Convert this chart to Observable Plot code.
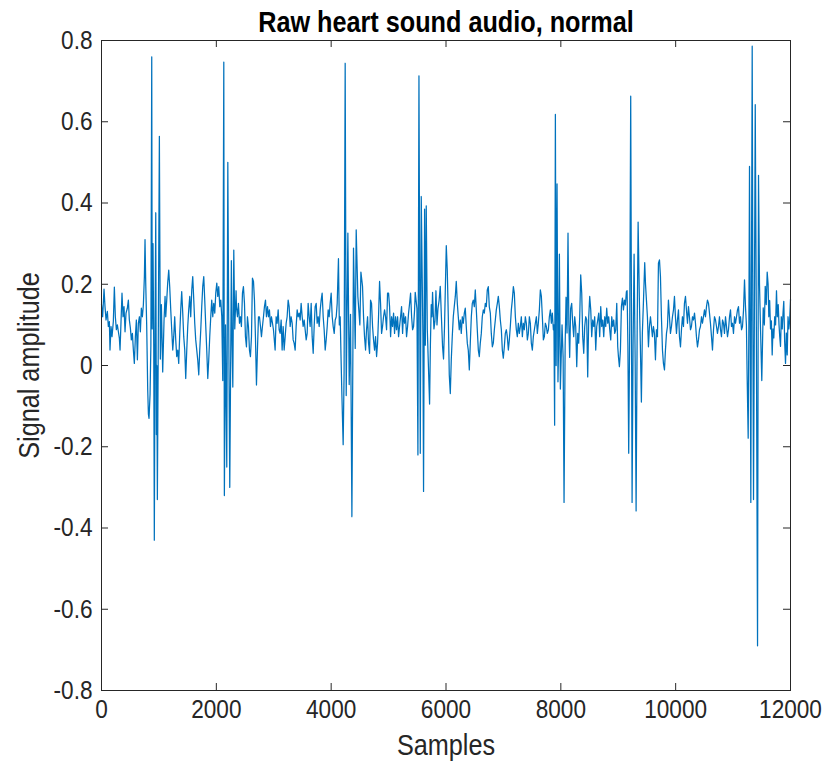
<!DOCTYPE html>
<html>
<head>
<meta charset="utf-8">
<script src="https://cdn.jsdelivr.net/npm/d3@7"></script>
<script src="https://cdn.jsdelivr.net/npm/@observablehq/plot@0.6"></script>
<style>
  html, body { margin: 0; padding: 0; background: #fff; }
  #chart svg { display: block; }
</style>
</head>
<body>
<div id="chart"></div>
<script>
// ---- Data: [sample index, amplitude] ----
const seg0 = [[0,0.15],[20,0.12],[44,0.188],[61,0.145],[79,0.112],[102,0.133],[119,0.096],[137,0.108],[148,0.038],[166,0.096],[183,0.071],[206,0.108],[224,0.193],[241,0.12],[259,0.088],[276,0.1],[294,0.083],[311,0.067],[323,0.038],[340,0.108],[357,0.178],[375,0.12],[392,0.145],[410,0.083],[427,0.129],[450,0.141],[468,0.161],[485,0.112],[503,0.092],[520,0.063],[538,0.079],[555,0.038],[572,0.005],[590,0.071],[607,0.112],[625,0.014],[642,0.104],[660,0.12],[677,0.083],[694,0.141],[712,0.12],[729,0.149],[747,0.219]];
const burst1 = [[758,0.31],[770,0.205],[787,0.10],[805,-0.06],[817,-0.12],[828,-0.13],[846,-0.07],[860,0.05],[875,0.76],[883,0.09],[897,0.30],[910,0.05],[920,-0.43],[933,0.10],[945,0.376],[956,-0.17],[964,0.0],[973,-0.33],[990,0.09],[1008,0.564],[1025,0.016],[1043,0.15],[1066,-0.016],[1089,0.11],[1107,0.17]];
const seg1 = [[1119,0.12],[1136,0.161],[1153,0.203],[1171,0.235],[1188,0.194],[1206,0.137],[1223,0.088],[1241,0.038],[1258,0.071],[1275,0.12],[1293,0.063],[1310,0.022],[1328,0.038],[1345,0.005],[1363,0.079],[1380,0.137],[1397,0.182],[1415,0.129],[1432,0.071],[1450,0.038],[1467,-0.032],[1485,0.038],[1502,0.096],[1519,0.137],[1537,0.17],[1554,0.12],[1572,0.186],[1589,0.219],[1607,0.161],[1624,0.104],[1641,0.063],[1659,0.038],[1676,0.014],[1694,-0.023],[1711,0.038],[1729,0.088],[1746,0.145],[1763,0.194],[1781,0.219],[1798,0.161],[1816,0.096],[1833,0.038],[1851,-0.032],[1868,0.014],[1885,0.071],[1903,0.12],[1920,0.161],[1938,0.12],[1955,0.153],[1973,0.129],[1990,0.178],[2008,0.203],[2025,0.17],[2042,0.194],[2060,0.145],[2077,0.161],[2095,0.12]];
const burst2 = [[2112,-0.037],[2130,0.747],[2140,-0.32],[2160,0.10],[2182,-0.25],[2200,0.50],[2218,0.05],[2234,-0.30],[2262,0.258],[2275,0.05],[2287,-0.053],[2304,0.284],[2321,0.09],[2344,0.184]];
const seg2 = [[2350,0.145],[2368,0.12],[2385,0.153],[2403,0.104],[2420,0.12],[2437,0.096],[2455,0.178],[2472,0.194],[2490,0.153],[2507,0.071],[2525,0.046],[2542,0.12],[2559,0.096],[2577,0.038],[2594,0.022],[2612,0.071],[2629,0.215],[2647,0.207],[2664,0.161],[2681,0.071],[2699,-0.048],[2716,0.038],[2734,0.12],[2751,0.12],[2769,0.096],[2786,0.071],[2803,0.096],[2821,0.12],[2838,0.145],[2856,0.161],[2873,0.12],[2891,0.145],[2908,0.12],[2925,0.137],[2943,0.096],[2960,0.12],[2978,0.104],[2995,0.088],[3024,0.038],[3042,0.12],[3059,0.104],[3077,0.137],[3094,0.088],[3111,0.079],[3129,0.112],[3146,0.038],[3164,0.096],[3181,0.038],[3199,0.071],[3216,0.104],[3233,0.12],[3251,0.161],[3268,0.145],[3286,0.096],[3303,0.12],[3321,0.104],[3338,0.063],[3355,0.055],[3373,0.038],[3390,0.096],[3408,0.137],[3425,0.12],[3443,0.129],[3460,0.112],[3477,0.153],[3495,0.12],[3512,0.096],[3530,0.112],[3547,0.088],[3565,0.063],[3582,0.079],[3599,0.153],[3617,0.12],[3634,0.096],[3652,0.153],[3669,0.071],[3687,0.03],[3704,0.096],[3721,0.145],[3739,0.153],[3756,0.104],[3774,0.12],[3791,0.096],[3809,0.137],[3826,0.161],[3843,0.178],[3861,0.12],[3878,0.088],[3896,0.038],[3913,0.063],[3931,0.096],[3948,0.137],[3965,0.12],[3983,0.153],[4000,0.178],[4018,0.12],[4035,0.096],[4053,0.079],[4070,0.112],[4088,0.12],[4105,0.153]];
const burst3 = [[4127,0.263],[4142,0.10],[4157,0.12],[4172,0.02],[4187,-0.074],[4209,-0.195],[4225,-0.02],[4244,0.744],[4262,-0.074],[4291,0.326],[4314,-0.047],[4337,0.126],[4361,-0.372],[4389,0.289],[4419,0.042],[4436,0.334],[4465,0.17],[4500,0.10],[4518,0.23],[4546,0.195]];
const seg3 = [[4564,0.12],[4581,0.071],[4599,0.038],[4616,0.088],[4634,0.12],[4651,0.055],[4669,0.03],[4686,0.161],[4703,0.153],[4721,0.096],[4738,0.063],[4756,0.038],[4773,0.071],[4791,0.022],[4808,0.055],[4825,0.12],[4843,0.207],[4860,0.153],[4878,0.079],[4895,0.096],[4912,0.12],[4930,0.137],[4947,0.12],[4965,0.088],[4982,0.178],[5000,0.178],[5017,0.145],[5035,0.071],[5052,0.12],[5069,0.096],[5087,0.129],[5104,0.079],[5122,0.12],[5139,0.088],[5157,0.12],[5174,0.071],[5191,0.096],[5209,0.12],[5226,0.145],[5244,0.079],[5261,0.129],[5279,0.104],[5296,0.12],[5313,0.071],[5331,0.096],[5348,0.129],[5366,0.153],[5383,0.178],[5401,0.12],[5418,0.088],[5435,0.096],[5453,0.137]];
const burst4 = [[5464,0.18],[5494,0.14],[5511,-0.22],[5529,0.713],[5552,-0.216],[5569,0.416],[5598,0.068],[5609,-0.31],[5627,0.385],[5640,0.05],[5656,0.393],[5674,0.09],[5714,-0.095],[5728,0.05],[5743,0.15],[5755,0.12],[5766,0.18],[5778,0.13],[5790,0.09],[5808,0.11],[5825,0.184],[5843,0.10],[5860,0.14],[5880,0.16],[5900,0.195],[5920,0.12],[5940,0.047],[5957,0.016],[5975,0.10],[5990,0.20],[6005,0.295],[6022,0.235],[6040,0.12],[6057,-0.023],[6075,-0.069]];
const seg4 = [[6092,0.014],[6109,0.071],[6127,0.12],[6144,0.145],[6162,0.17],[6179,0.207],[6197,0.153],[6214,0.12],[6231,0.088],[6249,0.112],[6266,0.079],[6284,0.12],[6301,0.104],[6319,0.129],[6336,0.141],[6353,0.096],[6371,0.055],[6388,0.038],[6406,-0.011],[6423,0.055],[6441,0.12],[6458,0.153],[6475,0.161],[6493,0.145],[6510,0.186],[6528,0.137],[6545,0.088],[6563,0.038],[6580,0.022],[6597,0.055],[6615,0.079],[6632,0.12],[6650,0.137],[6667,0.129],[6685,0.153],[6702,0.145],[6719,0.186],[6737,0.194],[6754,0.145],[6772,0.129],[6789,0.079],[6807,0.046],[6824,0.055],[6842,0.088],[6859,0.112],[6876,0.137],[6894,0.153],[6911,0.17],[6929,0.145],[6946,0.112],[6964,0.088],[6981,0.038],[6998,0.018],[7016,0.046],[7033,0.079],[7051,0.088],[7068,0.071],[7086,0.038],[7103,0.063],[7120,0.096],[7138,0.137],[7155,0.161],[7173,0.194],[7190,0.178],[7208,0.12],[7225,0.088],[7242,0.071],[7260,0.104],[7277,0.079],[7295,0.096],[7312,0.12],[7330,0.071],[7347,0.104],[7364,0.088],[7382,0.12],[7399,0.104],[7417,0.063],[7434,0.079],[7452,0.12],[7469,0.104],[7486,0.055],[7504,0.038],[7521,0.071],[7539,0.088],[7556,0.104],[7574,0.12],[7591,0.079],[7608,0.104],[7626,0.137],[7643,0.186],[7661,0.17],[7678,0.12],[7696,0.063],[7713,0.071],[7730,0.104],[7748,0.096],[7765,0.079],[7783,0.088],[7800,0.12],[7818,0.137],[7835,0.104],[7852,0.129],[7870,0.088]];
const burst5 = [[7880,0.10],[7892,-0.147],[7905,0.618],[7918,0.0],[7934,0.447],[7950,-0.04],[7962,0.05],[7975,0.274],[7992,-0.058],[8021,0.10],[8040,0.02],[8056,-0.337],[8075,0.05],[8091,0.168],[8108,0.08],[8125,0.326],[8140,0.10],[8154,0.02],[8171,0.14]];
const seg5 = [[8189,0.153],[8207,0.104],[8224,0.071],[8242,0.12],[8259,0.096],[8277,-0.003],[8294,0.079],[8311,0.055],[8329,0.12],[8346,0.223],[8364,0.178],[8381,0.071],[8399,0.03],[8416,0.096],[8433,0.12],[8451,0.112],[8468,-0.028],[8486,0.12],[8503,0.17],[8521,0.137],[8538,0.071],[8555,0.112],[8573,0.096],[8590,0.12],[8608,0.038],[8625,0.096],[8643,0.112],[8660,0.129],[8677,0.071],[8695,0.145],[8712,0.096],[8730,0.112],[8747,0.071],[8765,0.12],[8782,0.096],[8799,0.141],[8817,0.104],[8834,0.12],[8852,0.088],[8869,0.063],[8887,0.12],[8904,0.096],[8921,0.112],[8939,0.079],[8956,0.088],[8974,0.153],[8991,0.046],[9003,0.022],[9020,-0.003],[9038,0.038],[9055,0.145],[9073,0.166],[9090,0.137],[9107,0.161],[9125,0.149],[9142,0.182]];
const burst6 = [[9154,0.184],[9168,0.05],[9182,-0.216],[9200,0.10],[9217,0.663],[9241,-0.337],[9258,0.05],[9276,0.274],[9295,0.0],[9311,-0.358],[9330,0.10],[9346,0.353],[9369,0.153],[9385,0.05],[9403,-0.09],[9420,0.08],[9438,0.153],[9461,0.253],[9475,0.20]];
const seg6 = [[9491,0.161],[9508,0.12],[9526,0.046],[9543,0.096],[9561,0.12],[9578,0.096],[9595,0.071],[9613,0.096],[9630,0.079],[9648,0.014],[9665,0.088],[9683,0.071],[9700,0.252],[9718,0.26],[9735,0.219],[9752,0.12],[9770,0.038],[9787,0.005],[9805,-0.011],[9822,0.038],[9840,0.079],[9857,0.096],[9874,0.161],[9892,0.12],[9909,0.079],[9927,0.096],[9944,0.12],[9962,0.137],[9979,0.17],[9996,0.12],[10014,0.079],[10031,0.112],[10049,0.137],[10066,0.071],[10084,0.046],[10101,0.088],[10118,0.12],[10136,0.096],[10153,0.153],[10171,0.17],[10188,0.137],[10206,0.104],[10223,0.145],[10240,0.12],[10258,0.088],[10275,0.096],[10293,0.12],[10310,0.112],[10328,0.129],[10345,0.104],[10362,0.071],[10380,0.046],[10397,0.063],[10415,0.088],[10432,0.096],[10450,0.12],[10467,0.104],[10484,0.12],[10502,0.137],[10519,0.12],[10537,0.145],[10554,0.161],[10572,0.153],[10589,0.129],[10606,0.104],[10624,0.071],[10641,0.038],[10659,0.088],[10676,0.12],[10694,0.112],[10711,0.096],[10728,0.079],[10746,0.096],[10763,0.12],[10781,0.088],[10798,0.071],[10816,0.112],[10833,0.104],[10850,0.079],[10868,0.12],[10885,0.096],[10903,0.071],[10920,0.088],[10938,0.12],[10955,0.137],[10972,0.096],[10990,0.104],[11007,0.079],[11025,0.12],[11042,0.104],[11060,0.12],[11077,0.137],[11094,0.145],[11112,0.104],[11129,0.12],[11147,0.088],[11164,0.096],[11182,0.137],[11199,0.211],[11216,0.145]];
const burst7 = [[11232,0.10],[11246,-0.037],[11263,-0.179],[11275,0.10],[11286,0.49],[11298,0.10],[11309,-0.337],[11320,0.2],[11333,0.786],[11345,0.1],[11356,-0.33],[11370,0.1],[11386,0.642],[11405,0.1],[11426,-0.69],[11435,0.0],[11443,0.468],[11460,0.2],[11478,0.09],[11500,-0.037],[11525,0.142],[11545,0.10],[11560,0.195],[11578,0.15],[11594,0.23],[11610,0.20],[11622,0.12],[11637,0.16],[11652,0.09],[11667,0.11],[11681,0.026],[11695,0.09],[11709,0.068],[11725,0.12],[11740,0.10],[11756,0.184],[11770,0.12],[11786,0.15],[11800,0.10],[11813,0.07],[11826,0.047],[11840,0.12],[11856,0.09],[11870,0.13],[11883,0.158],[11898,0.06],[11913,0.005],[11928,0.08],[11943,0.026],[11957,0.12],[11971,0.09],[11985,0.11],[12000,0.163]];

const xTicks = [0, 2000, 4000, 6000, 8000, 10000, 12000];
const xTickLabels = ["0", "2000", "4000", "6000", "8000", "10000", "12000"];
const yTicks = [-0.8, -0.6, -0.4, -0.2, 0, 0.2, 0.4, 0.6, 0.8];
const yTickLabels = ["-0.8", "-0.6", "-0.4", "-0.2", "0", "0.2", "0.4", "0.6", "0.8"];
const titleText = "Raw heart sound audio, normal";
const xLabelText = "Samples";
const yLabelText = "Signal amplitude";

// ---- Chart ----
const signal = [...seg0, ...burst1, ...seg1, ...burst2, ...seg2, ...burst3, ...seg3,
  ...burst4, ...seg4, ...burst5, ...seg5, ...burst6, ...seg6, ...burst7];

const axisColor = "#262626";
const lineColor = "#0072BD";
const W = 825, H = 763;
const mL = 101, mR = 35, mT = 40, mB = 73;
const fw = W - mL - mR, fh = H - mT - mB;
const tickLen = 7;

const chart = Plot.plot({
  width: W, height: H,
  marginLeft: mL, marginRight: mR, marginTop: mT, marginBottom: mB,
  style: {fontFamily: "'Liberation Sans', Arial, Helvetica, sans-serif", color: axisColor, background: "#fff", overflow: "visible"},
  x: {domain: [0, 12000]},
  y: {domain: [-0.8, 0.8]},
  marks: [
    Plot.line(signal, {x: d => d[0], y: d => d[1], stroke: lineColor, strokeWidth: 1.25, strokeLinejoin: "round"}),
    Plot.frame({stroke: axisColor, strokeWidth: 1}),
    Plot.tickX(xTicks, {x: d => d, insetTop: fh - tickLen, stroke: axisColor}),
    Plot.tickX(xTicks, {x: d => d, insetBottom: fh - tickLen, stroke: axisColor}),
    Plot.tickY(yTicks, {y: d => d, insetRight: fw - tickLen, stroke: axisColor}),
    Plot.tickY(yTicks, {y: d => d, insetLeft: fw - tickLen, stroke: axisColor}),
    Plot.axisX({ticks: xTicks, tickSize: 0, tickPadding: 9, fontSize: 26, label: null,
      tickFormat: d => xTickLabels[xTicks.indexOf(d)]}),
    Plot.axisY({ticks: yTicks, tickSize: 0, tickPadding: 9, fontSize: 26, label: null,
      tickFormat: d => yTickLabels[yTicks.indexOf(d)]}),
    Plot.text([titleText], {text: d => d, frameAnchor: "top", lineAnchor: "bottom", dy: -9,
      fontSize: 29, fontWeight: "bold", fill: "#000"}),
    Plot.text([xLabelText], {text: d => d, frameAnchor: "bottom", lineAnchor: "bottom", dy: 64,
      fontSize: 29, fill: axisColor}),
    Plot.text([yLabelText], {text: d => d, frameAnchor: "left", textAnchor: "middle", lineAnchor: "bottom", rotate: -90, dx: -63,
      fontSize: 29, fill: axisColor})
  ]
});

// Slightly condensed lettering, as in the reference rendering
const sx = 0.87;
chart.querySelectorAll("text").forEach(t => {
  const tr = t.getAttribute("transform") || "";
  const x = parseFloat(t.getAttribute("x")) || 0;
  t.setAttribute("transform", `${tr} translate(${x},0) scale(${sx},1) translate(${-x},0)`);
});

document.getElementById("chart").appendChild(chart);
</script>
</body>
</html>
